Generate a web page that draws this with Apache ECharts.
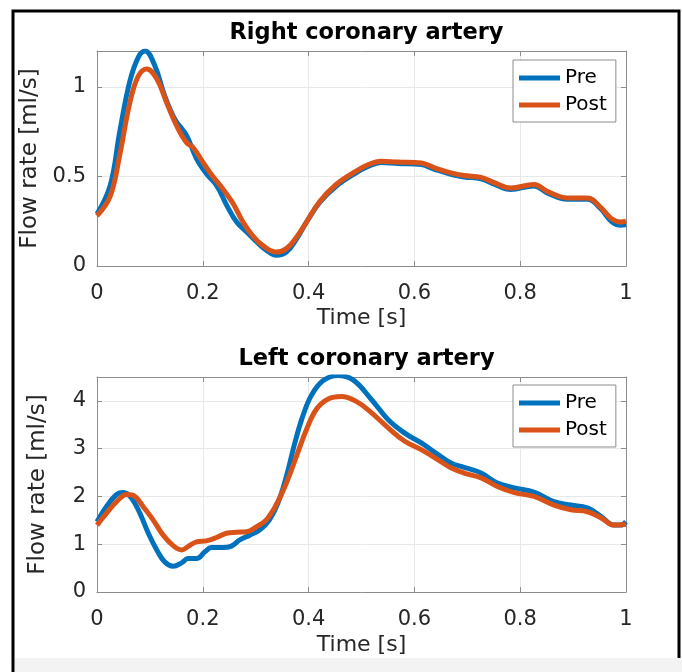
<!DOCTYPE html>
<html>
<head>
<meta charset="utf-8">
<title>Coronary flow rate</title>
<script src="https://cdn.jsdelivr.net/npm/echarts@6/dist/echarts.min.js"></script>
<style>
  html, body { margin: 0; padding: 0; background: #fff; }
  #chart { width: 682px; height: 672px; }
</style>
</head>
<body>
<div id="chart"></div>
<script>
// right coronary artery, time [s] and flow rate [ml/s]
var rcaPreT = [0, 0.025, 0.043, 0.062, 0.078, 0.091, 0.109, 0.128, 0.147, 0.169, 0.188, 0.207, 0.226, 0.245, 0.264, 0.283, 0.302, 0.32, 0.339, 0.358, 0.377, 0.396, 0.421, 0.452, 0.487, 0.512, 0.537, 0.569, 0.613, 0.638, 0.669, 0.694, 0.726, 0.751, 0.782, 0.826, 0.852, 0.889, 0.927, 0.953, 0.972, 0.99, 1];
var rcaPre  = [0.29, 0.45, 0.75, 1.03, 1.165, 1.2, 1.12, 0.95, 0.82, 0.73, 0.6, 0.515, 0.45, 0.34, 0.245, 0.19, 0.134, 0.088, 0.06, 0.078, 0.15, 0.245, 0.355, 0.445, 0.515, 0.555, 0.578, 0.572, 0.566, 0.54, 0.512, 0.497, 0.487, 0.457, 0.427, 0.447, 0.407, 0.372, 0.372, 0.317, 0.25, 0.228, 0.232];
var rcaPostT = [0, 0.025, 0.043, 0.062, 0.078, 0.094, 0.113, 0.132, 0.151, 0.169, 0.182, 0.2, 0.219, 0.238, 0.257, 0.276, 0.294, 0.313, 0.339, 0.358, 0.377, 0.396, 0.421, 0.452, 0.487, 0.512, 0.537, 0.569, 0.613, 0.638, 0.669, 0.694, 0.726, 0.751, 0.782, 0.826, 0.852, 0.889, 0.927, 0.953, 0.972, 0.99, 1];
var rcaPost  = [0.28, 0.39, 0.62, 0.91, 1.06, 1.1, 1.045, 0.91, 0.78, 0.69, 0.66, 0.58, 0.5, 0.43, 0.35, 0.245, 0.17, 0.115, 0.078, 0.097, 0.16, 0.245, 0.36, 0.455, 0.525, 0.565, 0.585, 0.58, 0.575, 0.548, 0.52, 0.505, 0.495, 0.465, 0.435, 0.455, 0.415, 0.38, 0.38, 0.325, 0.265, 0.245, 0.25];

// left coronary artery
var lcaPreT = [0, 0.018, 0.037, 0.05, 0.065, 0.081, 0.097, 0.113, 0.128, 0.144, 0.16, 0.172, 0.188, 0.204, 0.216, 0.238, 0.254, 0.27, 0.289, 0.308, 0.326, 0.342, 0.358, 0.374, 0.389, 0.405, 0.427, 0.455, 0.484, 0.518, 0.55, 0.581, 0.613, 0.644, 0.669, 0.694, 0.726, 0.757, 0.789, 0.826, 0.864, 0.896, 0.927, 0.953, 0.977, 0.99, 1];
var lcaPre  = [1.47, 1.79, 2.04, 2.08, 1.97, 1.65, 1.23, 0.88, 0.63, 0.54, 0.61, 0.7, 0.7, 0.84, 0.93, 0.93, 0.96, 1.09, 1.19, 1.3, 1.51, 1.86, 2.42, 3.12, 3.68, 4.11, 4.42, 4.53, 4.44, 4.04, 3.61, 3.33, 3.12, 2.88, 2.7, 2.61, 2.49, 2.28, 2.18, 2.09, 1.89, 1.82, 1.76, 1.58, 1.4, 1.4, 1.47];
var lcaPostT = [0, 0.018, 0.037, 0.056, 0.072, 0.087, 0.106, 0.125, 0.144, 0.16, 0.172, 0.188, 0.207, 0.226, 0.245, 0.264, 0.283, 0.302, 0.32, 0.339, 0.358, 0.377, 0.396, 0.415, 0.437, 0.462, 0.49, 0.518, 0.55, 0.581, 0.613, 0.644, 0.669, 0.694, 0.726, 0.757, 0.789, 0.826, 0.864, 0.896, 0.927, 0.953, 0.977, 1];
var lcaPost  = [1.4, 1.65, 1.89, 2.04, 2.0, 1.79, 1.51, 1.19, 0.97, 0.88, 0.95, 1.05, 1.07, 1.14, 1.23, 1.25, 1.26, 1.37, 1.51, 1.83, 2.28, 2.84, 3.4, 3.83, 4.04, 4.09, 3.99, 3.76, 3.44, 3.16, 2.98, 2.77, 2.6, 2.49, 2.39, 2.21, 2.08, 2.0, 1.82, 1.72, 1.68, 1.55, 1.4, 1.42];

var titles = ['Right coronary artery', 'Left coronary artery'];
var seriesNames = ['Pre', 'Post'];
var rcaYLabels = [0, 0.5, 1];
var lcaYLabels = [0, 1, 2, 3, 4];

var FONT = 'DejaVu Sans';
var BOX = '#8c8c8c';
var TXT = '#262626';
var BLUE = '#0072BD';
var ORANGE = '#D95319';

function pairs(ts, vs) {
    return ts.map(function (t, i) { return [t, vs[i]]; });
}

function xAxes(g, gap) {
    return [{
        type: 'value', gridIndex: g, position: 'bottom',
        min: 0, max: 1, interval: 0.2,
        name: 'Time [s]', nameLocation: 'middle', nameGap: gap,
        nameTextStyle: { fontFamily: FONT, fontSize: 22, color: TXT },
        axisLine: { show: true, onZero: false, lineStyle: { color: BOX } },
        axisTick: { show: true, inside: true, length: 5, lineStyle: { color: BOX } },
        axisLabel: { fontFamily: FONT, fontSize: 21, color: TXT, margin: 17 },
        splitLine: { show: true, lineStyle: { color: '#e8e8e8' } }
    }, {
        type: 'value', gridIndex: g, position: 'top',
        min: 0, max: 1, interval: 0.2,
        axisLine: { show: true, onZero: false, lineStyle: { color: BOX } },
        axisTick: { show: true, inside: true, length: 5, lineStyle: { color: BOX } },
        axisLabel: { show: false },
        splitLine: { show: false }
    }];
}

function yAxes(g, max, interval, labels) {
    return [{
        type: 'value', gridIndex: g, position: 'left',
        min: 0, max: max, interval: interval,
        name: 'Flow rate [ml/s]', nameLocation: 'middle', nameGap: 47,
        nameTextStyle: { fontFamily: FONT, fontSize: 23, color: TXT },
        axisLine: { show: true, onZero: false, lineStyle: { color: BOX } },
        axisTick: { show: true, inside: true, length: 5, lineStyle: { color: BOX } },
        axisLabel: {
            fontFamily: FONT, fontSize: 21, color: TXT, margin: 11,
            formatter: function (v) { return labels.indexOf(v) >= 0 ? String(v) : ''; }
        },
        splitLine: { show: true, lineStyle: { color: '#e8e8e8' } }
    }, {
        type: 'value', gridIndex: g, position: 'right',
        min: 0, max: max, interval: interval,
        axisLine: { show: true, onZero: false, lineStyle: { color: BOX } },
        axisTick: { show: true, inside: true, length: 5, lineStyle: { color: BOX } },
        axisLabel: { show: false },
        splitLine: { show: false }
    }];
}

function legendAt(top) {
    return {
        data: seriesNames, orient: 'vertical', left: 513, top: top,
        icon: 'rect', itemWidth: 41, itemHeight: 5, itemGap: 5,
        padding: [7, 9, 6, 6],
        borderColor: BOX, borderWidth: 1, backgroundColor: '#fff',
        textStyle: { fontFamily: FONT, fontSize: 20, color: '#000', lineHeight: 22 }
    };
}

function line(name, color, xi, yi, data) {
    return {
        name: name, type: 'line', xAxisIndex: xi, yAxisIndex: yi,
        data: data, showSymbol: false, smooth: 0.4,
        lineStyle: { width: 5, color: color }, itemStyle: { color: color }
    };
}

var chart = echarts.init(document.getElementById('chart'));
var option = {
    animation: false,
    backgroundColor: '#fff',
    title: [{
        text: titles[0], left: 361.5, top: 17, textAlign: 'center',
        textStyle: { fontFamily: FONT, fontWeight: 'bold', fontSize: 22.5, color: '#000' }
    }, {
        text: titles[1], left: 361.5, top: 343, textAlign: 'center',
        textStyle: { fontFamily: FONT, fontWeight: 'bold', fontSize: 22.5, color: '#000' }
    }],
    legend: [legendAt(60), legendAt(385)],
    grid: [
        { left: 97, right: 56, top: 51, height: 215, outerBoundsMode: 'none' },
        { left: 97, right: 56, top: 377, height: 215, outerBoundsMode: 'none' }
    ],
    xAxis: xAxes(0, 41).concat(xAxes(1, 42)),
    yAxis: yAxes(0, 1.2, 0.5, rcaYLabels).concat(yAxes(1, 4.5, 1, lcaYLabels)),
    series: [
        line('Pre', BLUE, 0, 0, pairs(rcaPreT, rcaPre)),
        line('Post', ORANGE, 0, 0, pairs(rcaPostT, rcaPost)),
        line('Pre', BLUE, 2, 2, pairs(lcaPreT, lcaPre)),
        line('Post', ORANGE, 2, 2, pairs(lcaPostT, lcaPost))
    ],
    graphic: [{
        type: 'rect', z: 0,
        shape: { x: 13, y: 11, width: 666, height: 700 },
        style: { fill: 'none', stroke: '#000', lineWidth: 3 }
    }, {
        type: 'rect', z: 10,
        shape: { x: 15, y: 658, width: 667, height: 14 },
        style: { fill: '#f3f3f3' }
    }]
};
chart.setOption(option);
</script>
</body>
</html>
